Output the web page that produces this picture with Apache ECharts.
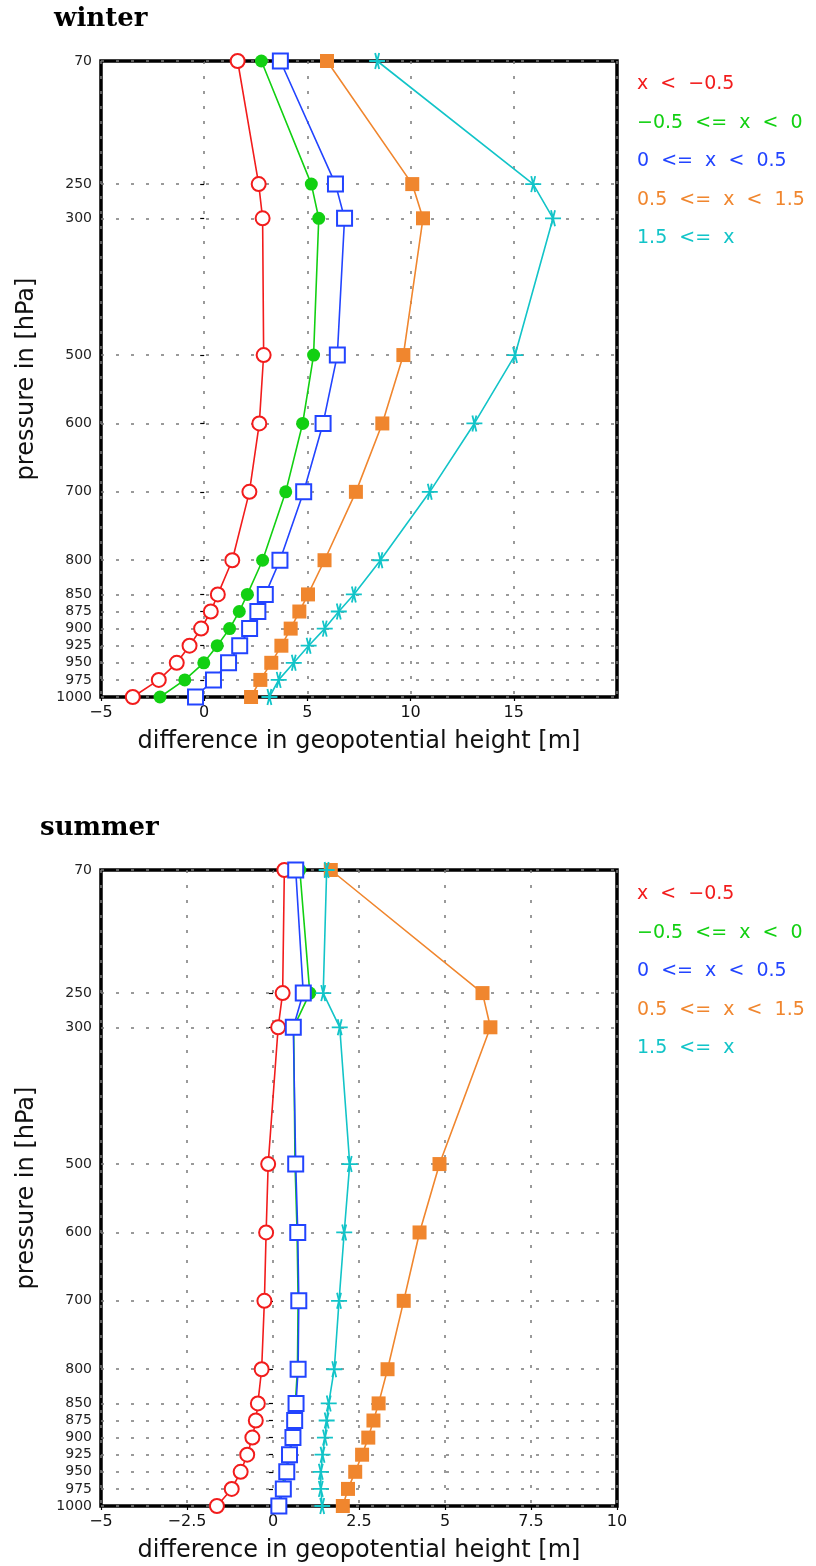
<!DOCTYPE html>
<html>
<head>
<meta charset="utf-8">
<title>geopotential height difference</title>
<script src="https://cdn.jsdelivr.net/npm/echarts@6/dist/echarts.min.js"></script>
<style>
  html, body { margin: 0; padding: 0; background: #fff; }
  #chart { width: 816px; height: 1566px; }
</style>
</head>
<body>
<div id="chart"></div>
<script>
// pressure levels [hPa]
const levels = [70, 250, 300, 500, 600, 700, 800, 850, 875, 900, 925, 950, 975, 1000];

// classes of x
const classNames = [
    'x  <  −0.5',
    '−0.5  <=  x  <  0',
    '0  <=  x  <  0.5',
    '0.5  <=  x  <  1.5',
    '1.5  <=  x',
];

// winter, difference in geopotential height [m], one value per level
const winterA = [1.62, 2.64, 2.83, 2.88, 2.67, 2.19, 1.36, 0.66, 0.32, -0.15, -0.71, -1.33, -2.2, -3.46];
const winterB = [2.77, 5.19, 5.55, 5.3, 4.77, 3.95, 2.83, 2.09, 1.7, 1.23, 0.63, -0.02, -0.94, -2.14];
const winterC = [3.69, 6.36, 6.8, 6.45, 5.76, 4.82, 3.67, 2.96, 2.6, 2.2, 1.72, 1.18, 0.45, -0.42];
const winterD = [5.95, 10.08, 10.6, 9.65, 8.63, 7.35, 5.83, 5.03, 4.61, 4.19, 3.74, 3.25, 2.72, 2.27];
const winterE = [8.38, 15.94, 16.9, 15.06, 13.09, 10.93, 8.54, 7.25, 6.52, 5.84, 5.06, 4.34, 3.61, 3.16];

// summer
const summerA = [0.33, 0.28, 0.15, -0.14, -0.2, -0.25, -0.33, -0.44, -0.5, -0.6, -0.75, -0.94, -1.2, -1.63];
const summerB = [0.78, 1.07, 0.6, 0.64, 0.7, 0.73, 0.71, 0.65, 0.61, 0.55, 0.46, 0.36, 0.24, 0.14];
const summerC = [0.66, 0.88, 0.59, 0.66, 0.72, 0.75, 0.73, 0.67, 0.63, 0.58, 0.48, 0.4, 0.3, 0.17];
const summerD = [1.68, 6.09, 6.32, 4.84, 4.26, 3.8, 3.33, 3.07, 2.92, 2.77, 2.59, 2.39, 2.18, 2.03];
const summerE = [1.56, 1.46, 1.94, 2.23, 2.07, 1.92, 1.78, 1.62, 1.56, 1.51, 1.44, 1.39, 1.39, 1.43];

const colors = ['#f21c1c', '#12d012', '#2244ff', '#f0862e', '#12c4c8'];

const font = 'DejaVu Sans';
const gridColor = '#7a7a7a';

// marker look per class (empty* symbols get a white fill)
const markers = [
    { symbol: 'emptyCircle', size: 14, border: 1.8 },
    { symbol: 'circle', size: 13, border: 0 },
    { symbol: 'emptyRect', size: 15, border: 1.8 },
    { symbol: 'rect', size: 14, border: 0 },
    { symbol: 'path://M0,8L16,8M6,0L10,16M10,0L6,16', size: 16, border: 1.8 },
];

const minusFmt = (v) => (v < 0 ? '−' + Math.abs(v) : String(v));

function makeSeries(values, k, panel) {
    const m = markers[k];
    return {
        name: classNames[k],
        type: 'line',
        xAxisIndex: panel,
        yAxisIndex: panel,
        data: levels.map((p, i) => [values[i], p]),
        symbol: m.symbol,
        symbolSize: m.size,
        symbolKeepAspect: true,
        showAllSymbol: true,
        clip: false,
        silent: true,
        z: 2 + k,
        lineStyle: { color: colors[k], width: 1.6 },
        itemStyle: {
            color: colors[k],
            borderColor: colors[k],
            borderWidth: m.border,
        },
        emphasis: { disabled: true },
    };
}

// dotted horizontal grid lines at every pressure level
function makeLevelLines(panel) {
    return {
        name: 'levels',
        type: 'line',
        xAxisIndex: panel,
        yAxisIndex: panel,
        data: [],
        silent: true,
        z: 1,
        markLine: {
            silent: true,
            z: 1,
            symbol: ['none', 'none'],
            label: { show: false },
            lineStyle: { type: [3, 12], color: gridColor, width: 1.5 },
            emphasis: { disabled: true },
            data: levels.map((p) => ({ yAxis: p })),
        },
    };
}

function makeXAxis(panel, max, interval, hideMax) {
    return {
        type: 'value',
        gridIndex: panel,
        min: -5,
        max: max,
        interval: interval,
        axisLine: { show: false },
        axisTick: { show: true, length: 4, lineStyle: { color: '#000', width: 1.2 } },
        axisLabel: {
            formatter: minusFmt,
            showMaxLabel: !hideMax,
            fontFamily: font,
            fontSize: 16,
            color: '#111',
            margin: 8,
        },
        splitLine: { show: true, lineStyle: { type: [3, 12], color: gridColor, width: 1.5 } },
        name: 'difference in geopotential height [m]',
        nameLocation: 'middle',
        nameGap: 33,
        nameTextStyle: { fontFamily: font, fontSize: 24, color: '#111' },
    };
}

function makeYAxis(panel) {
    return {
        type: 'value',
        gridIndex: panel,
        inverse: true,
        min: 70,
        max: 1000,
        axisLine: { show: false },
        axisTick: { show: true, customValues: levels, length: 4, lineStyle: { color: '#000', width: 1.2 } },
        axisLabel: {
            customValues: levels,
            formatter: (v) => String(v),
            fontFamily: font,
            fontSize: 14,
            color: '#222',
            margin: 9,
        },
        splitLine: { show: false },
        name: 'pressure in [hPa]',
        nameLocation: 'middle',
        nameGap: 62,
        nameTextStyle: { fontFamily: font, fontSize: 24, color: '#111' },
    };
}

function makeLegend(top) {
    return {
        orient: 'vertical',
        left: 627,
        top: top,
        icon: 'none',
        itemWidth: 0,
        itemHeight: 18,
        itemGap: 19.5,
        selectedMode: false,
        textStyle: { fontFamily: font, fontSize: 19 },
        data: classNames.map((n, k) => ({ name: n, textStyle: { color: colors[k] } })),
    };
}

const chart = echarts.init(document.getElementById('chart'));

const titleStyle = { fontFamily: 'DejaVu Serif', fontWeight: 'bold', fontSize: 26, color: '#000' };

const option = {
    animation: false,
    backgroundColor: '#fff',
    title: [
        { text: 'winter', left: 49, top: 1, textStyle: titleStyle },
        { text: 'summer', left: 35, top: 810, textStyle: titleStyle },
    ],
    legend: [makeLegend(70), makeLegend(880)],
    grid: [
        { left: 101, top: 61, width: 516, height: 636, show: true, borderColor: '#000', borderWidth: 3.5 },
        { left: 101, top: 870, width: 516, height: 636, show: true, borderColor: '#000', borderWidth: 3.5 },
    ],
    xAxis: [makeXAxis(0, 20, 5, true), makeXAxis(1, 10, 2.5, false)],
    yAxis: [makeYAxis(0), makeYAxis(1)],
    series: [
        makeLevelLines(0),
        makeSeries(winterA, 0, 0),
        makeSeries(winterB, 1, 0),
        makeSeries(winterC, 2, 0),
        makeSeries(winterD, 3, 0),
        makeSeries(winterE, 4, 0),
        makeLevelLines(1),
        makeSeries(summerA, 0, 1),
        makeSeries(summerB, 1, 1),
        makeSeries(summerC, 2, 1),
        makeSeries(summerD, 3, 1),
        makeSeries(summerE, 4, 1),
    ],
};

chart.setOption(option);
</script>
</body>
</html>
